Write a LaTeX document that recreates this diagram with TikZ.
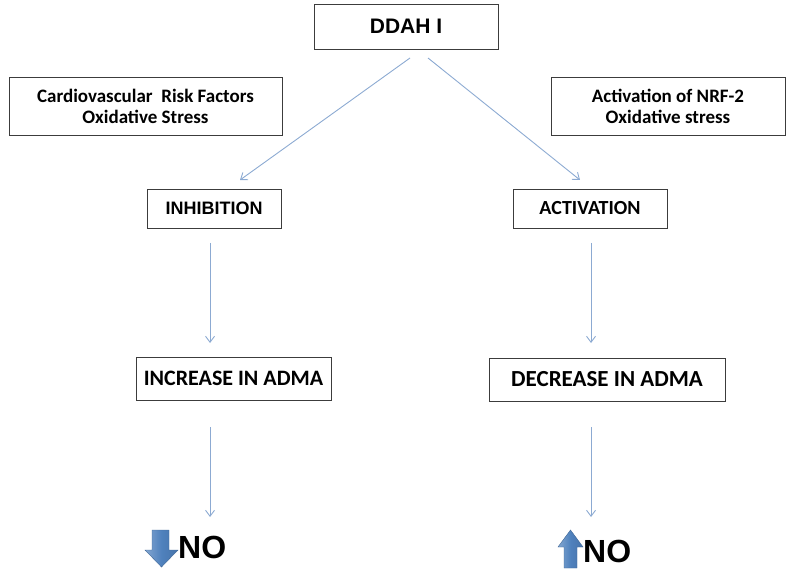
\documentclass[tikz,border=0pt]{standalone}
\usepackage{fontspec}
\setmainfont{Carlito}
\newfontfamily\arialf{Liberation Sans}
\usetikzlibrary{arrows.meta}
\definecolor{linkblue}{RGB}{140,170,210}
\definecolor{boxline}{RGB}{60,60,60}
\definecolor{bigarrow}{RGB}{79,129,189}
\begin{document}
\begin{tikzpicture}[x=1pt,y=-1pt,
  box/.style={draw=boxline,line width=0.9pt,fill=white,inner sep=0pt},
  link/.style={draw=linkblue,line width=0.9pt,-{Straight Barb[length=6pt,width=9pt]}},
  blk/.style={draw=bigarrow!80!black,line width=0.4pt,left color=bigarrow!70!white,right color=bigarrow!90!black,middle color=bigarrow}]
\useasboundingbox (0,0) rectangle (797,577);
% boxes
\node[box,minimum width=184pt,minimum height=45pt,font=\arialf\bfseries\fontsize{21}{24}\selectfont] (ddah) at (406,26.5) {DDAH I};
\node[box,minimum width=273pt,minimum height=58pt,align=center,font=\bfseries\fontsize{19}{21}\selectfont] (risk) at (145.5,106.5) {Cardiovascular\ \ Risk Factors\\Oxidative Stress};
\node[box,minimum width=234pt,minimum height=58pt,align=center,font=\bfseries\fontsize{19}{21}\selectfont] (nrf) at (668,106.5) {Activation of NRF-2\\Oxidative stress};
\node[box,minimum width=134pt,minimum height=39pt,font=\arialf\bfseries\fontsize{18}{21}\selectfont] (inh) at (214,208.5) {INHIBITION};
\node[box,minimum width=154pt,minimum height=39pt,font=\bfseries\fontsize{20}{23}\selectfont] (act) at (590,208.5) {ACTIVATION};
\node[box,minimum width=195pt,minimum height=43pt,font=\bfseries\fontsize{22}{25}\selectfont] (inc) at (233.5,378.5) {INCREASE IN ADMA};
\node[box,minimum width=236pt,minimum height=43pt,font=\bfseries\fontsize{23}{26}\selectfont] (dec) at (607,379.5) {DECREASE IN ADMA};
% block arrows
\path[blk] (152,530) -- (169,530) -- (169,550) -- (178,550) -- (161.5,567) -- (145,550) -- (152,550) -- cycle;
\path[blk] (564,568) -- (577,568) -- (577,547) -- (583,547) -- (570.5,530) -- (558,547) -- (564,547) -- cycle;
\node[anchor=west,inner sep=0pt,font=\arialf\bfseries\fontsize{32}{36}\selectfont] (no1) at (178,547) {NO};
\node[anchor=west,inner sep=0pt,font=\arialf\bfseries\fontsize{32}{36}\selectfont] (no2) at (583,551) {NO};
% arrow endpoints
\coordinate (a1s) at (410,58);
\coordinate (a1e) at (240,180);
\coordinate (a2s) at (428,58);
\coordinate (a2e) at (580,180);
\coordinate (l1s) at (210,243);
\coordinate (l1e) at (210,343);
\coordinate (l2s) at (210,427);
\coordinate (l2e) at (210,517);
\coordinate (r1s) at (591,243);
\coordinate (r1e) at (591,343);
\coordinate (r2s) at (591,427);
\coordinate (r2e) at (591,517);
\draw[link] (a1s) -- (a1e);
\draw[link] (a2s) -- (a2e);
\draw[link] (l1s) -- (l1e);
\draw[link] (l2s) -- (l2e);
\draw[link] (r1s) -- (r1e);
\draw[link] (r2s) -- (r2e);
\end{tikzpicture}
\end{document}
